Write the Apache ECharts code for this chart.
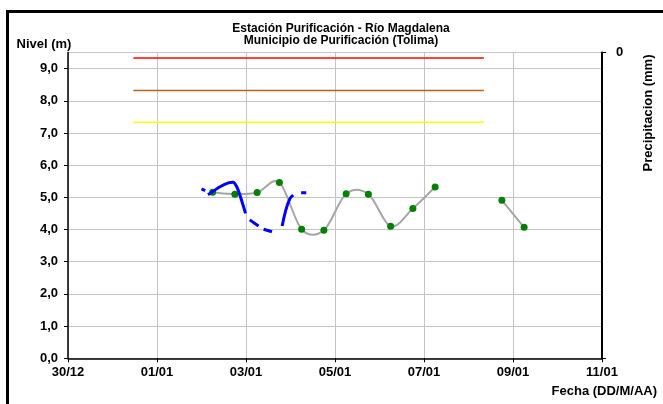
<!DOCTYPE html>
<html>
<head>
<meta charset="utf-8">
<script src="https://cdn.jsdelivr.net/npm/echarts@6/dist/echarts.min.js"></script>
<style>html,body{margin:0;padding:0;background:#fff}#c{width:663px;height:404px}</style>
</head>
<body>
<div id="c"></div>
<script>
// ---- data ----
const axisStart = '2010-12-30 00:00';
const axisEnd = '2011-01-11 00:00';
const yTicks = [0,1,2,3,4,5,6,7,8,9];

const levelDates = ['2011-01-02 06:00','2011-01-02 18:00','2011-01-03 06:00','2011-01-03 18:00',
  '2011-01-04 06:00','2011-01-04 18:00','2011-01-05 06:00','2011-01-05 18:00',
  '2011-01-06 06:00','2011-01-06 18:00','2011-01-07 06:00','2011-01-07 18:00',
  '2011-01-08 06:00','2011-01-08 18:00','2011-01-09 06:00'];
const levelValues = [5.16,5.10,5.15,5.46,4.01,3.98,5.11,5.10,4.10,4.65,5.32,null,null,4.91,4.07];

const rtDates = ['2011-01-02 00:00','2011-01-02 02:00','2011-01-02 02:45',
  '2011-01-02 03:30','2011-01-02 10:00','2011-01-02 14:30','2011-01-02 17:00','2011-01-02 19:00','2011-01-02 21:00','2011-01-02 23:45','2011-01-03 01:00',
  '2011-01-03 02:00','2011-01-03 06:45','2011-01-03 08:00',
  '2011-01-03 09:30','2011-01-03 14:00','2011-01-03 17:00',
  '2011-01-03 19:30','2011-01-03 21:30','2011-01-03 23:45','2011-01-04 01:30','2011-01-04 04:00',
  '2011-01-04 05:45','2011-01-04 08:30'];
const rtValues = [5.26,5.21,null,
  5.08,5.33,5.45,5.47,5.33,5.02,4.50,null,
  4.30,4.11,null,
  4.01,3.93,null,
  4.11,4.61,4.97,5.07,null,
  5.14,5.14];

const thresholdDates = ['2010-12-31 11:15','2011-01-08 08:15'];
const redLevel = 9.33;
const orangeLevel = 8.32;
const yellowLevel = 7.33;

// ---- helpers ----
function toMs(s){const [d,t]=s.split(' ');const [Y,M,D]=d.split('-').map(Number);const [h,m]=t.split(':').map(Number);return Date.UTC(Y,M-1,D,h,m);}
const base = toMs(axisStart);
const DAY = 86400000;
function dayOff(s){return (toMs(s)-base)/DAY;}
const xMax = dayOff(axisEnd);
function pairs(dates, vals){return dates.map((d,i)=>[dayOff(d), vals[i]]);}
function flat(v){return thresholdDates.map(d=>[dayOff(d), v]);}
function fmtDay(v){const dt=new Date(base+v*DAY);const dd=String(dt.getUTCDate()).padStart(2,'0');const mm=String(dt.getUTCMonth()+1).padStart(2,'0');return dd+'/'+mm;}

const levelData = pairs(levelDates, levelValues);

// Excel-like (Catmull-Rom) smoothed segment between point i and i+1, via the chart's own scales
function levelSegment(params, api){
  const i = params.dataIndex;
  const P = levelData.map(p => p[1]==null ? null : api.coord(p));
  if (i >= P.length-1 || !P[i] || !P[i+1]) return null;
  const p1 = P[i], p2 = P[i+1];
  const p0 = P[i-1] || p1, p3 = P[i+2] || p2;
  const k = 1/6;
  const c1 = [p1[0]+(p2[0]-p0[0])*k, p1[1]+(p2[1]-p0[1])*k];
  const c2 = [p2[0]-(p3[0]-p1[0])*k, p2[1]-(p3[1]-p1[1])*k];
  return {type:'path', shape:{pathData:`M${p1[0]},${p1[1]} C${c1[0]},${c1[1]} ${c2[0]},${c2[1]} ${p2[0]},${p2[1]}`},
    style:{fill:null, stroke:'#a6a6a6', lineWidth:2}};
}

const FONT = 'Liberation Sans, Arial, sans-serif';
const chart = echarts.init(document.getElementById('c'), null, {renderer:'canvas'});
chart.setOption({
  animation:false,
  backgroundColor:'#fff',
  title:{
    text:'Estación Purificación - Río Magdalena\nMunicipio de Purificación (Tolima)',
    left:336, top:18, textAlign:'center',
    textStyle:{fontFamily:FONT, fontWeight:'bold', fontSize:12, lineHeight:12, color:'#000'}
  },
  grid:{left:68, right:61, top:52.5, bottom:45.7, containLabel:false},
  xAxis:{
    type:'value', min:0, max:xMax, interval:2,
    axisLine:{lineStyle:{color:'#000', width:1.5}},
    axisTick:{show:true, length:4, lineStyle:{color:'#000'}},
    axisLabel:{formatter:fmtDay, margin:8, fontFamily:FONT, fontWeight:'bold', fontSize:13, color:'#000'},
    splitLine:{show:true, lineStyle:{color:'#c4c4c4', width:1}}
  },
  yAxis:[{
    type:'value', min:0, max:9.5, interval:1,
    axisLine:{show:true, lineStyle:{color:'#000', width:1.5}},
    axisTick:{show:true, length:4, lineStyle:{color:'#000'}},
    axisLabel:{showMaxLabel:false, margin:10, formatter:v=>yTicks.includes(v)?v.toFixed(1).replace('.',','):'', fontFamily:FONT, fontWeight:'bold', fontSize:13, color:'#000'},
    splitLine:{show:true, lineStyle:{color:'#c4c4c4', width:1}}
  },{
    type:'value', position:'right', inverse:true, min:0, max:10, interval:10,
    axisLine:{show:true, lineStyle:{color:'#000', width:2}},
    axisTick:{show:true, length:4, lineStyle:{color:'#000'}},
    axisLabel:{margin:14, formatter:v=>v===0?'0':'', fontFamily:FONT, fontWeight:'bold', fontSize:13, color:'#000'},
    splitLine:{show:false}
  }],
  graphic:[
    {type:'rect', shape:{x:7.5, y:11.5, width:700, height:500}, style:{fill:null, stroke:'#000', lineWidth:3}, silent:true},
    {type:'text', x:44, y:44, style:{text:'Nivel (m)', font:'bold 13px '+FONT, fill:'#000', textAlign:'center', textVerticalAlign:'middle'}},
    {type:'text', x:657, y:391, style:{text:'Fecha (DD/M/AA)', font:'bold 13px '+FONT, fill:'#000', textAlign:'right', textVerticalAlign:'middle'}},
    {type:'text', x:648, y:113, rotation:Math.PI/2, style:{text:'Precipitacion (mm)', font:'bold 13px '+FONT, fill:'#000', textAlign:'center', textVerticalAlign:'middle'}}
  ],
  series:[
    {type:'line', data:flat(redLevel), showSymbol:false, lineStyle:{color:'#ff0000', width:1.5}, z:2},
    {type:'line', data:flat(orangeLevel), showSymbol:false, lineStyle:{color:'#b8621b', width:1.5}, z:2},
    {type:'line', data:flat(yellowLevel), showSymbol:false, lineStyle:{color:'#ffff00', width:1.5}, z:2},
    {type:'custom', data:levelData.map((p,i)=>[p[0], p[1]==null?0:p[1]]), renderItem:levelSegment, z:3, clip:false, silent:true},
    {type:'line', data:levelData, connectNulls:false,
      symbol:'circle', symbolSize:7, showAllSymbol:true,
      itemStyle:{color:'#008000', borderWidth:0},
      lineStyle:{width:0, opacity:0}, z:4},
    {type:'line', data:pairs(rtDates, rtValues), smooth:0.3, connectNulls:false, showSymbol:false,
      lineStyle:{color:'#0000ff', width:3}, z:5}
  ]
});
</script>
</body>
</html>
